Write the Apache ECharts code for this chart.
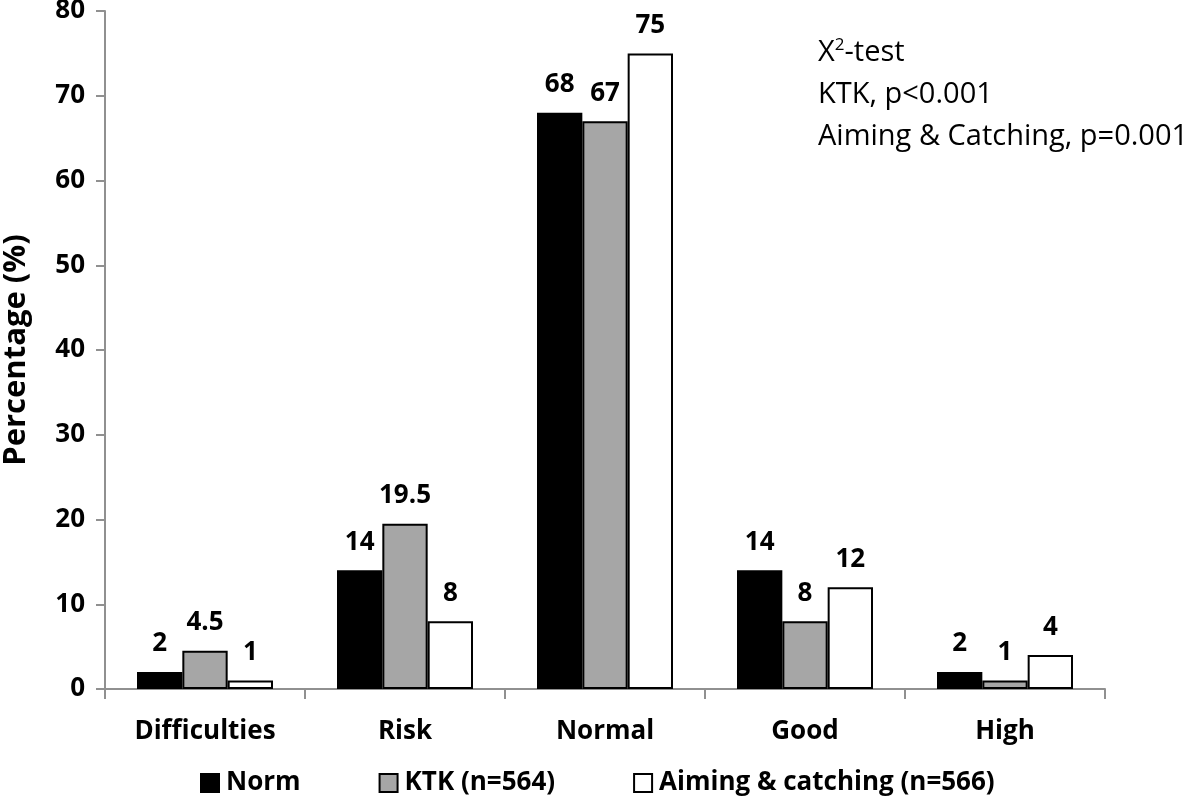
<!DOCTYPE html>
<html><head><meta charset="utf-8">
<script src="https://cdn.jsdelivr.net/npm/echarts@6/dist/echarts.min.js"></script>
<style>html,body{margin:0;padding:0;background:#fff}#c{width:1200px;height:796px}</style>
</head><body><div id="c"></div>
<script>
var categories = ['Difficulties', 'Risk', 'Normal', 'Good', 'High'];
var normValues = [2, 14, 68, 14, 2];
var ktkValues = [4.5, 19.5, 67, 8, 1];
var aimingValues = [1, 8, 75, 12, 4];
var seriesNames = ['Norm', 'KTK (n=564)', 'Aiming & catching (n=566)'];
var annotationLines = ['-test', 'KTK, p<0.001', 'Aiming & Catching, p=0.001'];

var FONT = '"Open Sans"';
var chart = echarts.init(document.getElementById('c'));
function mk(name, data, color) {
  return {
    name: name, type: 'bar', data: data, barGap: '0%', barCategoryGap: '32%',
    itemStyle: { color: color, borderColor: '#000', borderWidth: 2 },
    label: { show: true, position: 'top', distance: 15, color: '#000', fontFamily: FONT, fontWeight: 'bold', fontSize: 26 },
    emphasis: { disabled: true }
  };
}
chart.setOption({
  animation: false,
  backgroundColor: '#fff',
  grid: { left: 105, right: 95, top: 11, bottom: 107, containLabel: false, outerBoundsMode: 'none' },
  legend: {
    left: 200, top: 770, padding: 0, itemWidth: 18, itemHeight: 18, itemGap: 78,
    icon: 'rect',
    textStyle: { fontFamily: FONT, fontWeight: 'bold', fontSize: 26, color: '#000', padding: [0,0,0,2] },
    data: seriesNames
  },
  xAxis: {
    type: 'category', data: categories,
    axisLine: { lineStyle: { color: '#909090', width: 2 } },
    axisTick: { show: true, length: 10, lineStyle: { color: '#909090', width: 2 } },
    axisLabel: { margin: 30, color: '#000', fontFamily: FONT, fontWeight: 'bold', fontSize: 26 }
  },
  yAxis: {
    type: 'value', min: 0, max: 80, interval: 10,
    name: 'Percentage (%)', nameLocation: 'middle', nameGap: 73,
    nameTextStyle: { fontFamily: FONT, fontWeight: 'bold', fontSize: 31, color: '#000' },
    axisLine: { show: true, lineStyle: { color: '#909090', width: 2 } },
    axisTick: { show: true, length: 9, lineStyle: { color: '#909090', width: 2 } },
    splitLine: { show: false },
    axisLabel: { margin: 20, color: '#000', fontFamily: FONT, fontWeight: 'bold', fontSize: 26 }
  },
  graphic: [
    { type: 'text', x: 818, y: 53, style: {
      verticalAlign: 'middle',
      text: '{x|X}{s|2}{n|' + annotationLines[0] + '}',
      rich: { x: { fontFamily: FONT, fontSize: 29, fill: '#000' }, s: { fontFamily: FONT, fontSize: 17, fill: '#000', verticalAlign: 'top', padding: [0,0,15,0] }, n: { fontFamily: FONT, fontSize: 29, fill: '#000' } } } },
    { type: 'text', x: 818, y: 95, style: { verticalAlign: 'middle', text: annotationLines[1], fontFamily: FONT, fontSize: 29, fill: '#000' } },
    { type: 'text', x: 818, y: 137, style: { verticalAlign: 'middle', text: annotationLines[2], fontFamily: FONT, fontSize: 29, fill: '#000' } }
  ],
  series: [ mk(seriesNames[0], normValues, '#000'), mk(seriesNames[1], ktkValues, '#a6a6a6'), mk(seriesNames[2], aimingValues, '#fff') ]
});
</script></body></html>
